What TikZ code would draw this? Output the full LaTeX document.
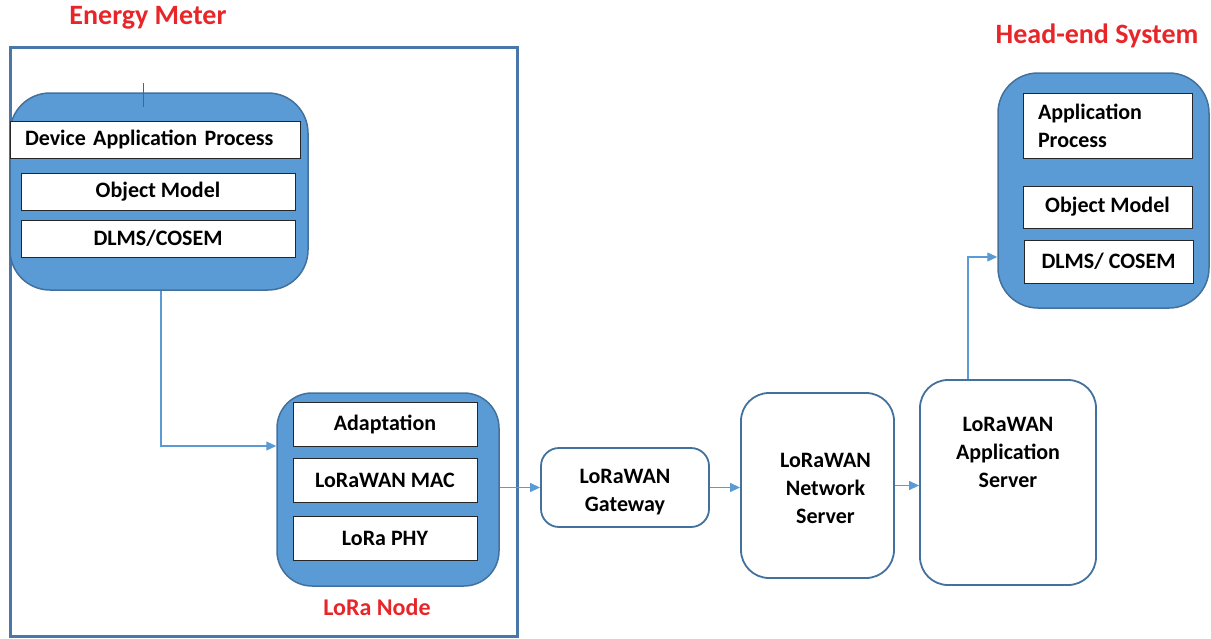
\documentclass[tikz,border=0pt]{standalone}
\usepackage{fontspec}
\setmainfont{Carlito}
\usetikzlibrary{arrows.meta}
\definecolor{boxblue}{HTML}{5B9BD5}
\definecolor{edgeblue}{HTML}{41719C}
\definecolor{framec}{HTML}{4A77AA}
\definecolor{titlered}{HTML}{E8262A}
\definecolor{tickc}{HTML}{7F5A3A}
\tikzset{
  bluebox/.style={draw=edgeblue, line width=1.5pt, fill=boxblue, inner sep=0pt},
  layer/.style={draw=black!85, line width=1pt, fill=white, inner sep=0pt,
    font=\bfseries\fontsize{22}{28}\selectfont},
  srvtext/.style={align=center, font=\bfseries\fontsize{22}{28}\selectfont},
  srv/.style={draw=edgeblue, line width=1.8pt, fill=white, inner sep=0pt},
  conn/.style={draw=boxblue, line width=1.3pt, -{Triangle[length=10pt,width=9pt]}},
  titletext/.style={text=titlered, font=\bfseries\fontsize{28}{32}\selectfont},
  framebox/.style={draw=framec, line width=3pt, inner sep=0pt}
}
\begin{document}
\begin{tikzpicture}[x=1pt,y=-1pt]
\useasboundingbox (0,0) rectangle (1211,638);
% Energy meter frame
\node[framebox, minimum width=507pt, minimum height=589pt] (meter) at (263.5,341.5) {};
\node[titletext] (emtitle) at (148,18) {Energy Meter};
% device block
\node[bluebox, rounded corners=40pt, minimum width=298pt, minimum height=197pt] (dev) at (159,191.5) {};
\coordinate (tickA) at (143,83);
\coordinate (tickB) at (143,107);
\draw[tickc, line width=1pt] (tickA) -- (tickB);
\node[layer, minimum width=290pt, minimum height=37pt, text width=260pt, align=left] (dap) at (155,139.5) {Device Application Process};
\node[layer, minimum width=274pt, minimum height=37pt] (om1) at (158,191.5) {Object Model};
\node[layer, minimum width=274pt, minimum height=37pt] (dl1) at (158,238.5) {DLMS/COSEM};
% LoRa node
\node[bluebox, rounded corners=35pt, minimum width=222pt, minimum height=193pt] (lora) at (388,489.5) {};
\node[layer, minimum width=184pt, minimum height=44pt] (adp) at (385,424) {Adaptation};
\node[layer, minimum width=184pt, minimum height=44pt] (mac) at (385,480) {LoRaWAN MAC};
\node[layer, minimum width=184pt, minimum height=44pt] (phy) at (385,538) {LoRa PHY};
\node[titletext, font=\bfseries\fontsize{24}{28}\selectfont] (lntitle) at (377,607) {LoRa Node};
% servers
\node[srv, rounded corners=18pt, minimum width=168pt, minimum height=79pt,
  label={[srvtext, yshift=-5pt]center:LoRaWAN\\Gateway}] (gw) at (625,487.5) {};
\node[srv, rounded corners=28pt, minimum width=153pt, minimum height=185pt,
  label={[srvtext, yshift=-3pt, xshift=8pt]center:LoRaWAN\\Network\\Server}] (ns) at (817.5,485.5) {};
\node[srv, rounded corners=28pt, minimum width=176pt, minimum height=205pt,
  label={[srvtext, anchor=north, yshift=-35pt]north:LoRaWAN\\Application\\Server}] (as) at (1008,482.5) {};
% head-end
\node[titletext] (hetitle) at (1097,36) {Head-end System};
\node[bluebox, rounded corners=40pt, minimum width=211pt, minimum height=235pt] (head) at (1103.5,190.5) {};
\node[layer, minimum width=169pt, minimum height=65pt, text width=139pt, align=left] (ap) at (1107.5,125.5) {Application\\Process};
\node[layer, minimum width=169pt, minimum height=42pt] (om2) at (1107.5,207) {Object Model};
\node[layer, minimum width=169pt, minimum height=43pt] (dl2) at (1108.5,261.5) {DLMS/ COSEM};
% connectors
\draw[conn] ([xshift=2pt]dev.south) |- ([yshift=43.5pt]lora.west);
\draw[conn] (lora.east |- gw.west) -- (gw.west);
\draw[conn] (gw.east) -- (gw.east -| ns.west);
\draw[conn] (ns.east) -- (ns.east -| as.west);
\draw[conn] ([xshift=-40pt]as.north) |- ([yshift=-66.5pt]head.west);
\end{tikzpicture}
\end{document}
